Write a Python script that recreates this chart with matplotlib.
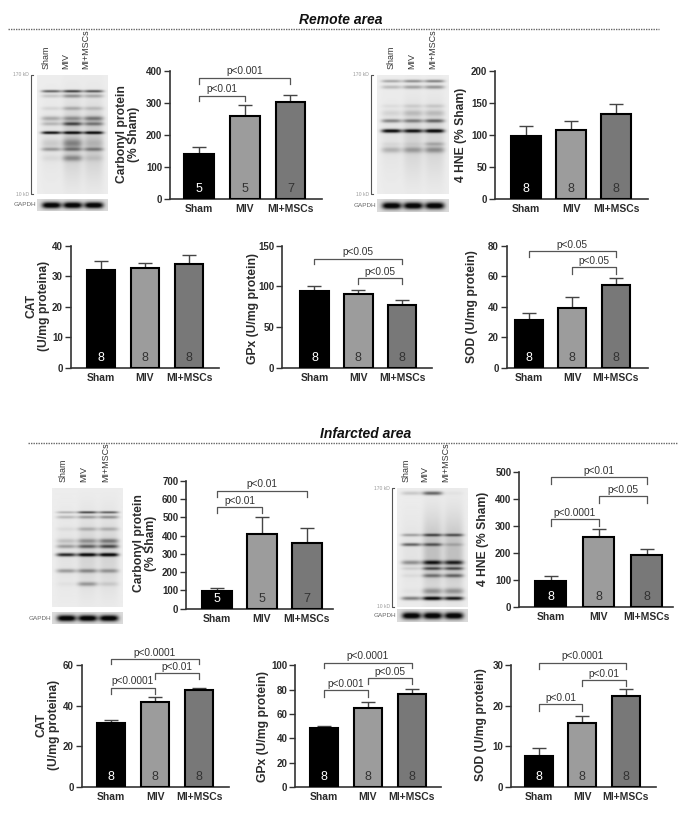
import numpy as np
import matplotlib
matplotlib.use("Agg")
import matplotlib.pyplot as plt

plt.rcParams["font.family"] = ["Liberation Sans", "DejaVu Sans"]

W, H = 685, 816
groups = ["Sham", "MIV", "MI+MSCs"]
bar_colors = ["#000000", "#9c9c9c", "#787878"]
ink = "#2b2b2b"

# values: means, upper error bar ends, n in the bars
carb_r = [140, 257, 301]
carb_r_top = [162, 293, 325]
hne_r = [98, 107, 133]
hne_r_top = [114, 122, 148]
cat_r = [32, 32.7, 34]
cat_r_top = [34.9, 34.2, 36.9]
gpx_r = [94, 90.5, 77.5]
gpx_r_top = [100, 95, 83]
sod_r = [31, 39, 54]
sod_r_top = [36, 46.5, 58.5]
carb_i = [97, 407, 362]
carb_i_top = [112, 500, 440]
hne_i = [97, 261, 192]
hne_i_top = [115, 288, 215]
cat_i = [31.5, 42, 47.7]
cat_i_top = [33, 44.3, 49]
gpx_i = [48.5, 65, 76.5]
gpx_i_top = [50, 70, 80.5]
sod_i = [7.7, 15.8, 22.5]
sod_i_top = [9.5, 17.6, 24.2]
n_carb = ["5", "5", "7"]
n_all = ["8", "8", "8"]

# brackets: first bar, last bar, top, end of the drop, text
br_carb_r = [(0, 1, 322, 305, "p<0.01"), (0, 2, 378, 358, "p<0.001")]
br_gpx_r = [(0, 2, 134, 127, "p<0.05"), (1, 2, 110, 102.5, "p<0.05")]
br_sod_r = [(0, 2, 76.5, 72.8, "p<0.05"), (1, 2, 65.8, 61.2, "p<0.05")]
br_carb_i = [(0, 2, 645, 612, "p<0.01"), (0, 1, 554, 521, "p<0.01")]
br_hne_i = [(0, 2, 479, 455, "p<0.01"), (1, 2, 410, 383, "p<0.05"), (0, 1, 324, 300, "p<0.0001")]
br_cat_i = [(0, 2, 63, 60.7, "p<0.0001"), (1, 2, 56, 53, "p<0.01"), (0, 1, 49, 46, "p<0.0001")]
br_gpx_i = [(0, 2, 102, 97.5, "p<0.0001"), (1, 2, 89.5, 84.7, "p<0.05"), (0, 1, 79.5, 74.2, "p<0.001")]
br_sod_i = [(0, 2, 30.6, 29.2, "p<0.0001"), (1, 2, 26.4, 24.9, "p<0.01"), (0, 1, 20.4, 18.8, "p<0.01")]

# blot bands: position down the blot, sigma, darkness in each lane
bands_a = [(.135, .008, [.6, .75, .65]), (.175, .012, [.15, .35, .25]), (.28, .012, [.08, .22, .15]),
           (.365, .015, [.25, .3, .4]), (.41, .012, [.2, .6, .4]), (.485, .009, [.95, .95, .95]),
           (.575, .03, [.1, .3, .1]), (.625, .012, [.3, .35, .35]), (.7, .02, [.05, .3, .08])]
bands_b = [(.05, .009, [.3, .4, .45]), (.10, .012, [.2, .3, .35]), (.26, .012, [.05, .1, .12]),
           (.32, .02, [.08, .15, .15]), (.385, .012, [.4, .4, .5]), (.47, .012, [.95, .85, .95]),
           (.58, .012, [.05, .05, .2]), (.63, .02, [.2, .25, .3])]
bands_c = [(.21, .007, [.25, .7, .6]), (.25, .01, [.2, .3, .35]), (.35, .012, [.05, .2, .2]),
           (.45, .015, [.15, .3, .4]), (.495, .012, [.3, .5, .6]), (.565, .011, [.8, .95, .98]),
           (.70, .013, [.3, .35, .3]), (.81, .014, [.03, .3, .1])]
bands_d = [(.05, .012, [.15, .55, .03]), (.40, .009, [.3, .6, .55]), (.48, .01, [.55, .5, .15]),
           (.63, .014, [.35, .75, .7]), (.68, .01, [.1, .55, .55]), (.74, .012, [.05, .4, .45]),
           (.87, .02, [.03, .3, .3]), (.93, .012, [.45, .98, .85])]

fig = plt.figure(figsize=(W / 100, H / 100), dpi=100)


def px_axes(x0, x1, ytop, ybot):
    return fig.add_axes([x0 / W, 1 - ybot / H, (x1 - x0) / W, (ybot - ytop) / H])


def bar_panel(box, xlim, ymax, ticks, vals, tops, ns, ylabel, ylab_pos, brackets=(), n_up=10):
    ax = px_axes(*box)
    x = np.arange(3)
    ax.errorbar(x, vals, yerr=[np.zeros(3), np.array(tops) - np.array(vals)], fmt="none",
                ecolor="#444444", elinewidth=1, capsize=5, capthick=1, zorder=2)
    ax.bar(x, vals, width=0.65, color=bar_colors, edgecolor="black", linewidth=1.5, zorder=3)
    ax.set_xlim(*xlim)
    ax.set_ylim(0, ymax)
    ax.set_yticks(ticks)
    ax.set_xticks(x, groups)
    ax.patch.set_alpha(0)
    for s in ["top", "right"]:
        ax.spines[s].set_visible(False)
    for s in ["left", "bottom"]:
        ax.spines[s].set_color("#333333")
        ax.spines[s].set_linewidth(1.2)
    ax.tick_params(axis="y", length=4, width=1, color="#333333", pad=1.5, labelsize=7, labelcolor=ink)
    ax.tick_params(axis="x", length=0, pad=3.5, labelsize=7.5, labelcolor=ink)
    for t in ax.get_xticklabels() + ax.get_yticklabels():
        t.set_fontweight("bold")
    for i, n in enumerate(ns):
        ax.annotate(n, (i, 0), xytext=(0, n_up * 0.72), textcoords="offset points", ha="center", va="center",
                    fontsize=9, color="white" if i == 0 else "#333333", zorder=5)
    for a, b, top, drop, label in brackets:
        ax.plot([a, a, b, b], [drop, top, top, drop], color="#555555", lw=0.9, clip_on=False, zorder=4)
        ax.annotate(label, ((a + b) / 2, top), xytext=(0, 1), textcoords="offset points", ha="center",
                    va="bottom", fontsize=7.3, color="#333333", annotation_clip=False)
    fig.text(ylab_pos[0] / W, 1 - ylab_pos[1] / H, ylabel, rotation=90, ha="center", va="center",
             multialignment="center", fontsize=8.7, fontweight="bold", color=ink, linespacing=1.05)
    return ax


def soften(img, size):
    # small box blur, the scanned blots have no sharp edges
    kernel = np.ones(size) / size
    img = np.apply_along_axis(lambda r: np.convolve(np.pad(r, size, mode="edge"), kernel, mode="same")[size:-size], 0, img)
    img = np.apply_along_axis(lambda r: np.convolve(np.pad(r, size, mode="edge"), kernel, mode="same")[size:-size], 1, img)
    return img


def blot(box, strip, bands, lane_x, lane_bottom, bracket_x=None, smear=0.0):
    x0, x1, y0, y1 = box
    rows, cols = int((y1 - y0) * 2), int((x1 - x0) * 2)
    yy = np.linspace(0, 1, rows)[:, None]
    xx = np.linspace(0, 1, cols)[None, :]
    ink_map = np.zeros((rows, cols))
    for li, cx in enumerate([.2, .5, .8]):
        lane = np.exp(-((xx - cx) / .14) ** 4)
        ink_map += lane * (.04 + smear * (li > 0)) * np.exp(-((yy - .55) / .32) ** 2)
        for pos, sig, dark in bands:
            ink_map += lane * dark[li] * np.exp(-((yy - pos) / (sig * 1.25)) ** 2)
    img = soften(np.clip(.93 - ink_map, 0.02, 1), 3)
    ax = px_axes(x0, x1, y0, y1)
    ax.imshow(img, cmap="gray", vmin=0, vmax=1, aspect="auto", interpolation="bilinear")
    ax.axis("off")

    sy0, sy1 = strip
    rows = int((sy1 - sy0) * 2)
    yy = np.linspace(0, 1, rows)[:, None]
    ink_map = np.zeros((rows, cols))
    for cx in [.2, .5, .8]:
        ink_map += np.exp(-((xx - cx) / .135) ** 4) * np.exp(-((yy - .5) / .27) ** 2)
    ax = px_axes(x0, x1, sy0, sy1)
    ax.imshow(soften(np.clip(.86 - ink_map, 0.03, 1), 2), cmap="gray", vmin=0, vmax=1, aspect="auto",
              interpolation="bilinear")
    ax.axis("off")
    fig.text((x0 - 1) / W, 1 - (sy0 + sy1) / 2 / H, "GAPDH", ha="right", va="center", fontsize=4.6, color="#666666")

    for lx, name in zip(lane_x, groups):
        fig.text(lx / W, 1 - lane_bottom / H, name, rotation=90, ha="center", va="bottom",
                 fontsize=6.4, color="#333333")
    if bracket_x is not None:
        fig.add_artist(plt.Line2D([(bracket_x + 2) / W, bracket_x / W, bracket_x / W, (bracket_x + 2) / W],
                                  [1 - y0 / H, 1 - y0 / H, 1 - y1 / H, 1 - y1 / H], color="#555555", lw=0.8))
        fig.text((bracket_x - 2) / W, 1 - y0 / H, "170 kD", ha="right", va="center", fontsize=3.6, color="#999999")
        fig.text((bracket_x - 2) / W, 1 - y1 / H, "10 kD", ha="right", va="center", fontsize=3.6, color="#999999")


def header(title, x, y, line_y, x0, x1):
    fig.text(x / W, 1 - y / H, title, ha="center", va="center", fontsize=10, fontweight="bold",
             fontstyle="italic", color="#111111")
    fig.add_artist(plt.Line2D([x0 / W, x1 / W], [1 - line_y / H] * 2, color="#666666", lw=1.0, ls=(0, (1, 0.8))))


header("Remote area", 341, 20, 29, 8, 659)
header("Infarcted area", 366, 434, 442.7, 28, 678)

blot((37, 108, 75, 194), (199, 211), bands_a, [46, 66, 86], 69, 31, smear=.1)
blot((377, 449, 75, 194), (199, 212), bands_b, [391, 412, 433], 69, 371, smear=.06)
blot((52, 123, 488, 607), (612, 624), bands_c, [63, 84, 106], 482, smear=.06)
blot((397, 468, 488, 607), (609, 622), bands_d, [406, 425, 446], 482, 392, smear=.14)

bar_panel((170, 322, 70.7, 198.7), (-.635, 2.69), 400, [0, 100, 200, 300, 400], carb_r, carb_r_top, n_carb,
          "Carbonyl protein\n(% Sham)", (128, 134), br_carb_r)
bar_panel((495, 648, 70.7, 198.7), (-.69, 2.71), 200, [0, 50, 100, 150, 200], hne_r, hne_r_top, n_all,
          "4 HNE (% Sham)", (461, 135))

bar_panel((70.5, 219, 245.7, 367.7), (-.69, 2.68), 40, [0, 10, 20, 30, 40], cat_r, cat_r_top, n_all,
          "CAT\n(U/mg proteina)", (38, 306))
bar_panel((282, 432, 245.7, 367.7), (-.74, 2.68), 150, [0, 50, 100, 150], gpx_r, gpx_r_top, n_all,
          "GPx (U/mg protein)", (253, 308), br_gpx_r)
bar_panel((506.6, 647.6, 245.7, 367.7), (-.51, 2.73), 80, [0, 20, 40, 60, 80], sod_r, sod_r_top, n_all,
          "SOD (U/mg protein)", (472, 307), br_sod_r)

bar_panel((186, 333, 480.7, 608.7), (-.69, 2.58), 700, list(range(0, 701, 100)), carb_i, carb_i_top, n_carb,
          "Carbonyl protein\n(% Sham)", (145, 543), br_carb_i)
bar_panel((519, 673, 471.7, 607.3), (-.66, 2.55), 500, [0, 100, 200, 300, 400, 500], hne_i, hne_i_top, n_all,
          "4 HNE (% Sham)", (483, 539), br_hne_i)

bar_panel((81.5, 229, 665.3, 787), (-.67, 2.68), 60, [0, 20, 40, 60], cat_i, cat_i_top, n_all,
          "CAT\n(U/mg proteina)", (48, 725), br_cat_i)
bar_panel((295, 440.5, 665.3, 787), (-.66, 2.65), 100, [0, 20, 40, 60, 80, 100], gpx_i, gpx_i_top, n_all,
          "GPx (U/mg protein)", (263, 727), br_gpx_i)
bar_panel((511, 656, 665.3, 787), (-.65, 2.70), 30, [0, 10, 20, 30], sod_i, sod_i_top, n_all,
          "SOD (U/mg protein)", (481, 725), br_sod_i)

fig.savefig("out.png", dpi=100)
